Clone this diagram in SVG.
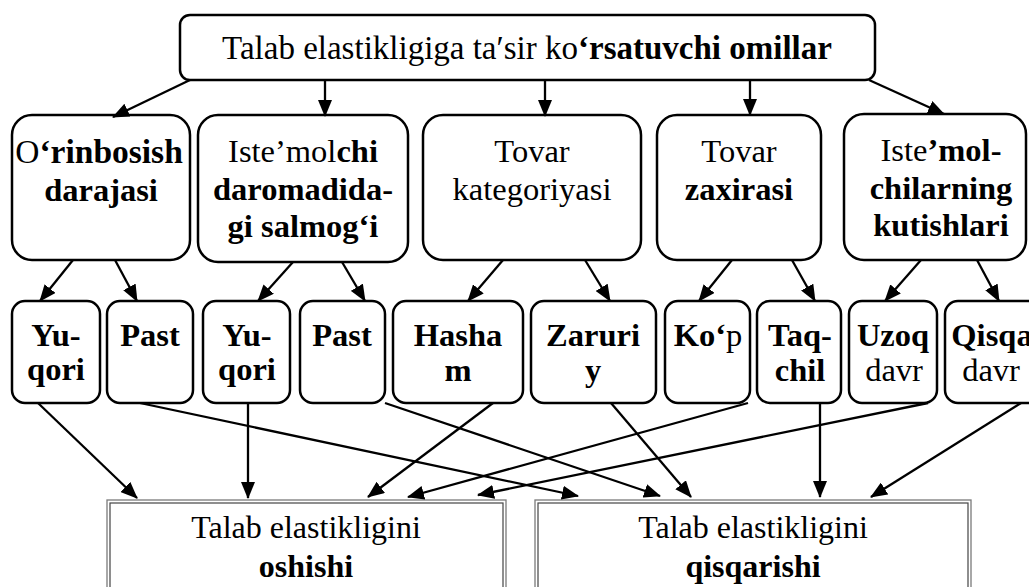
<svg xmlns="http://www.w3.org/2000/svg" width="1029" height="587" viewBox="0 0 1029 587">
<style>
.box{fill:#fff;stroke:#000;stroke-width:2.5}
.t{font-family:"Liberation Serif","Times New Roman",serif;font-size:32.5px;text-anchor:middle;fill:#000}
.b{font-weight:bold}
.res1{fill:#fff;stroke:#7a7a7a;stroke-width:1.3}
.res2{fill:none;stroke:#444;stroke-width:1.2}
.conn line{stroke:#000;stroke-width:2.3;marker-end:url(#ah)}
</style>
<defs>
<marker id="ah" markerUnits="userSpaceOnUse" markerWidth="17" markerHeight="14" refX="16" refY="7" orient="auto">
<path d="M0,0 L17,7 L0,14 z" fill="#000"/>
</marker>
</defs>
<rect width="1029" height="587" fill="#fff"/>
<g id="top">
<rect class="box" x="180" y="15" width="695" height="65" rx="10"/>
<text class="t" x="527" y="59" style="font-size:33px">Talab elastikligiga ta′sir ko<tspan class="b">‘rsatuvchi omillar</tspan></text>
</g>
<g id="m1">
<rect class="box" x="12" y="115" width="178" height="145" rx="20"/>
<text class="t" x="99" y="163" style="font-size:33.5px">O<tspan class="b">‘rinbosish</tspan></text>
<text class="t b" x="101" y="201">darajasi</text>
</g>
<g id="m2">
<rect class="box" x="198" y="115" width="210" height="147" rx="20"/>
<text class="t" x="303" y="162">Iste’mol<tspan class="b">chi</tspan></text>
<text class="t b" x="303" y="200">daromadida-</text>
<text class="t b" x="303" y="237">gi salmog‘i</text>
</g>
<g id="m3">
<rect class="box" x="423" y="115" width="218" height="145" rx="20"/>
<text class="t" x="532" y="162">Tovar</text>
<text class="t" x="532" y="200">kategoriyasi</text>
</g>
<g id="m4">
<rect class="box" x="657" y="115" width="164" height="145" rx="20"/>
<text class="t" x="739" y="162">Tovar</text>
<text class="t b" x="739" y="200">zaxirasi</text>
</g>
<g id="m5">
<rect class="box" x="844" y="114" width="182" height="146" rx="20"/>
<text class="t" x="941" y="161">Iste<tspan class="b">’mol-</tspan></text>
<text class="t b" x="941" y="199">chilarning</text>
<text class="t b" x="941" y="236">kutishlari</text>
</g>
<g id="b1">
<rect class="box" x="12" y="301" width="88" height="102" rx="13"/>
<text class="t b" x="56" y="346">Yu-</text>
<text class="t b" x="56" y="380">qori</text>
</g>
<g id="b2">
<rect class="box" x="107" y="301" width="86" height="102" rx="13"/>
<text class="t b" x="150" y="346">Past</text>
</g>
<g id="b3">
<rect class="box" x="203" y="301" width="87" height="102" rx="13"/>
<text class="t b" x="247" y="346">Yu-</text>
<text class="t b" x="247" y="380">qori</text>
</g>
<g id="b4">
<rect class="box" x="300" y="301" width="85" height="102" rx="13"/>
<text class="t b" x="342" y="346">Past</text>
</g>
<g id="b5">
<rect class="box" x="393" y="301" width="130" height="102" rx="13"/>
<text class="t b" x="458" y="346">Hasha</text>
<text class="t b" x="458" y="381">m</text>
</g>
<g id="b6">
<rect class="box" x="531" y="301" width="125" height="102" rx="13"/>
<text class="t b" x="593" y="346">Zaruri</text>
<text class="t b" x="593" y="381">y</text>
</g>
<g id="b7">
<rect class="box" x="665" y="301" width="85" height="102" rx="13"/>
<text class="t" x="708" y="346"><tspan class="b">Ko‘</tspan>p</text>
</g>
<g id="b8">
<rect class="box" x="757" y="301" width="84" height="102" rx="13"/>
<text class="t b" x="800" y="346">Taq-</text>
<text class="t b" x="800" y="381">chil</text>
</g>
<g id="b9">
<rect class="box" x="849" y="301" width="88" height="102" rx="13"/>
<text class="t b" x="893" y="346">Uzoq</text>
<text class="t" x="894" y="381">davr</text>
</g>
<g id="b10">
<rect class="box" x="945" y="301" width="96" height="102" rx="13"/>
<text class="t b" x="992" y="346">Qisqa</text>
<text class="t" x="991" y="381">davr</text>
</g>
<g id="r1">
<rect class="res1" x="107" y="500" width="399" height="110"/>
<rect class="res2" x="110" y="503" width="393" height="104"/>
<text class="t" x="306" y="538" style="font-size:32px">Talab elastikligini</text>
<text class="t b" x="306" y="577" style="font-size:32px">oshishi</text>
</g>
<g id="r2">
<rect class="res1" x="535" y="500" width="436" height="110"/>
<rect class="res2" x="538" y="503" width="430" height="104"/>
<text class="t" x="753" y="538" style="font-size:32px">Talab elastikligini</text>
<text class="t b" x="753" y="577" style="font-size:32px">qisqarishi</text>
</g>
<g id="connectors" class="conn">
<line x1="190" y1="80" x2="113" y2="117"/>
<line x1="325" y1="80" x2="325" y2="116"/>
<line x1="545" y1="80" x2="545" y2="116"/>
<line x1="750" y1="80" x2="750" y2="115"/>
<line x1="869" y1="80" x2="944" y2="114"/>
<line x1="73" y1="260" x2="40" y2="301"/>
<line x1="115" y1="260" x2="137" y2="301"/>
<line x1="293" y1="262" x2="258" y2="301"/>
<line x1="342" y1="262" x2="365" y2="301"/>
<line x1="503" y1="260" x2="468" y2="301"/>
<line x1="585" y1="260" x2="610" y2="301"/>
<line x1="732" y1="260" x2="699" y2="301"/>
<line x1="792" y1="260" x2="815" y2="301"/>
<line x1="921" y1="260" x2="885" y2="301"/>
<line x1="977" y1="260" x2="999" y2="301"/>
<line x1="38" y1="403" x2="137" y2="498"/>
<line x1="140" y1="403" x2="578" y2="496"/>
<line x1="248" y1="403" x2="248" y2="498"/>
<line x1="385" y1="403" x2="660" y2="496"/>
<line x1="493" y1="403" x2="368" y2="497"/>
<line x1="611" y1="403" x2="691" y2="497"/>
<line x1="748" y1="403" x2="408" y2="497"/>
<line x1="820" y1="403" x2="820" y2="497"/>
<line x1="928" y1="403" x2="478" y2="495"/>
<line x1="1021" y1="403" x2="871" y2="497"/>
</g>
</svg>
